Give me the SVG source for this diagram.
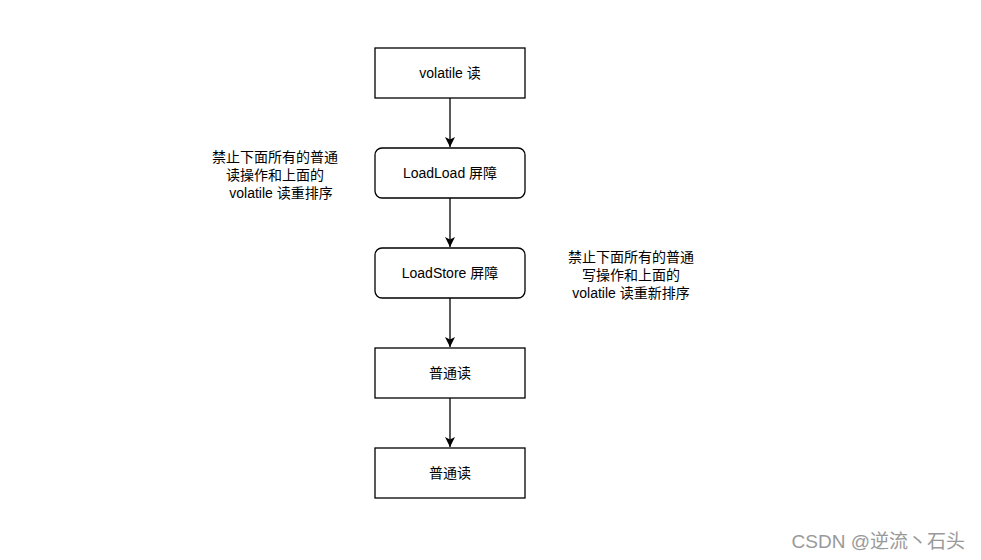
<svg xmlns="http://www.w3.org/2000/svg" width="981" height="560" viewBox="0 0 981 560">
<style>
.box{fill:#fff;stroke:#000;stroke-width:1.3}
.t{font-family:"Liberation Sans","Noto Sans CJK SC",sans-serif;font-size:14px;fill:#000;text-anchor:middle}
.c{stroke:#000;stroke-width:1.3;fill:none}
.wm{font-family:"Liberation Sans","Noto Sans CJK SC",sans-serif;font-size:19px;fill:#999;text-anchor:end}
</style>
<defs>
<marker id="ah" viewBox="0 0 10 10" refX="10" refY="5" markerWidth="11" markerHeight="10" markerUnits="userSpaceOnUse" orient="auto">
<path d="M0,0 L10,5 L0,10 L2.5,5 Z" fill="#000"/>
</marker>
</defs>
<rect width="981" height="560" fill="#fff"/>
<g id="connectors">
<line class="c" x1="450" y1="98" x2="450" y2="147" marker-end="url(#ah)"/>
<line class="c" x1="450" y1="198" x2="450" y2="247" marker-end="url(#ah)"/>
<line class="c" x1="450" y1="298" x2="450" y2="347" marker-end="url(#ah)"/>
<line class="c" x1="450" y1="398" x2="450" y2="447" marker-end="url(#ah)"/>
</g>
<g id="n1"><rect class="box" x="375" y="48" width="150" height="50"/><text class="t" x="450" y="78">volatile 读</text></g>
<g id="n2"><rect class="box" x="375" y="148" width="150" height="50" rx="7"/><text class="t" x="450" y="178">LoadLoad 屏障</text></g>
<g id="n3"><rect class="box" x="375" y="248" width="150" height="50" rx="7"/><text class="t" x="450" y="278">LoadStore 屏障</text></g>
<g id="n4"><rect class="box" x="375" y="348" width="150" height="50"/><text class="t" x="450" y="378">普通读</text></g>
<g id="n5"><rect class="box" x="375" y="448" width="150" height="50"/><text class="t" x="450" y="478">普通读</text></g>
<g id="label1"><text class="t" x="275" y="162">禁止下面所有的普通</text><text class="t" x="275" y="180">读操作和上面的</text><text class="t" x="281" y="198">volatile 读重排序</text></g>
<g id="label2"><text class="t" x="631" y="262">禁止下面所有的普通</text><text class="t" x="631" y="280">写操作和上面的</text><text class="t" x="631" y="298">volatile 读重新排序</text></g>
<text class="wm" x="965" y="548">CSDN @逆流丶石头</text>
</svg>
